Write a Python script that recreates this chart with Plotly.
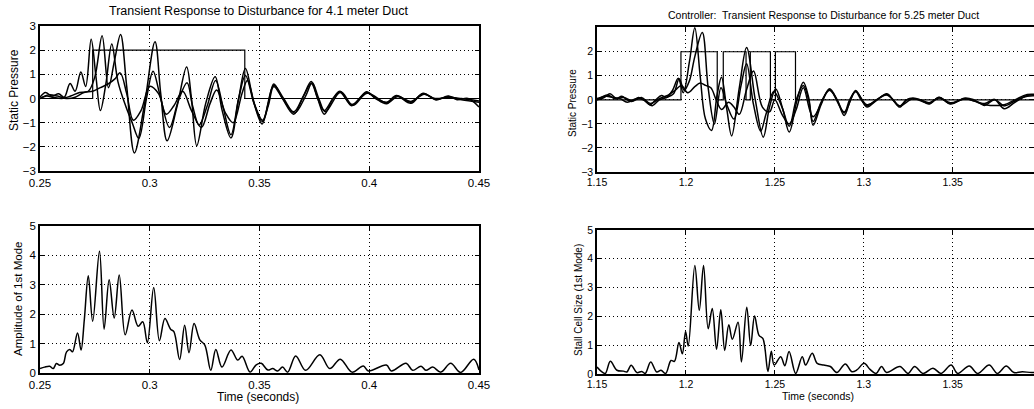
import plotly.graph_objects as go

# ---------------- data: 4.1 m duct (left) ----------------
step_l_t = [0.25, 0.274, 0.274, 0.3433, 0.3433, 0.45]
step_l_v = [0, 0, 2, 2, 0, 0]

p1_t = [0.2500, 0.2530, 0.2560, 0.2600, 0.2640, 0.2680, 0.2720, 0.2750, 0.2783, 0.2812, 0.2840, 0.2867,
        0.2895, 0.2930, 0.2975, 0.3024, 0.3050, 0.3079, 0.3125, 0.3168, 0.3190, 0.3214, 0.3255, 0.3298,
        0.3330, 0.3370, 0.3405, 0.3436, 0.3475, 0.3512, 0.3540, 0.3565, 0.3605, 0.3656, 0.3700, 0.3736,
        0.3765, 0.3795, 0.3835, 0.3867, 0.3920, 0.3960, 0.3988, 0.4030, 0.4079, 0.4124, 0.4190, 0.4245,
        0.4305, 0.4360, 0.4400, 0.4450, 0.4500]
p1_v = [0.00, 0.10, 0.05, 0.00, 0.10, 0.25, 0.30, 0.90, 2.60, 0.45, 1.60, 2.65,
        0.50, -2.25, -0.30, 2.35, 0.20, -1.75, -0.30, 1.30, 0.00, -1.95, -0.20, 0.90,
        -0.50, -1.63, 0.00, 1.24, -0.20, -1.05, -0.20, 0.60, 0.00, -0.65, 0.10, 0.70,
        0.00, -0.65, 0.00, 0.30, -0.30, 0.05, 0.28, 0.00, -0.22, 0.10, -0.20, 0.22,
        -0.05, 0.10, -0.05, 0.00, -0.35]

p2_t = [0.2500, 0.2525, 0.2555, 0.2585, 0.2610, 0.2637, 0.2660, 0.2686, 0.2708, 0.2733, 0.2755, 0.2775,
        0.2800, 0.2827, 0.2855, 0.2890, 0.2920, 0.2950, 0.2985, 0.3015, 0.3045, 0.3090, 0.3130, 0.3170,
        0.3195, 0.3225, 0.3262, 0.3300, 0.3335, 0.3370, 0.3405, 0.3436, 0.3475, 0.3512, 0.3540, 0.3565,
        0.3605, 0.3656, 0.3700, 0.3736, 0.3765, 0.3795, 0.3835, 0.3867, 0.3920, 0.3988, 0.4030, 0.4079,
        0.4124, 0.4190, 0.4245, 0.4305, 0.4360, 0.4420, 0.4500]
p2_v = [0.05, 0.25, 0.10, 0.20, 0.05, 0.62, 0.30, 1.10, 0.50, 2.45, 0.90, -0.50,
        0.60, 2.26, 0.70, -0.30, -1.00, -1.65, 0.00, 1.13, 0.20, -1.20, -0.10, 0.65,
        -0.30, -1.10, -0.30, 0.75, -0.40, -1.50, 0.00, 0.95, -0.20, -0.95, -0.30, 0.50,
        0.00, -0.55, 0.10, 0.62, 0.00, -0.50, 0.00, 0.25, -0.25, 0.25, 0.00, -0.15,
        0.12, -0.15, 0.20, -0.05, 0.08, -0.05, -0.15]

p3_t = [0.2500, 0.2540, 0.2580, 0.2620, 0.2660, 0.2700, 0.2740, 0.2775, 0.2810, 0.2840, 0.2865, 0.2895,
        0.2925, 0.2960, 0.3000, 0.3040, 0.3075, 0.3110, 0.3150, 0.3190, 0.3235, 0.3275, 0.3305, 0.3345,
        0.3380, 0.3420, 0.3445, 0.3480, 0.3515, 0.3565, 0.3610, 0.3660, 0.3710, 0.3740, 0.3770, 0.3800,
        0.3870, 0.3925, 0.3990, 0.4080, 0.4130, 0.4190, 0.4250, 0.4300, 0.4360, 0.4420, 0.4500]
p3_v = [0.00, 0.15, 0.10, 0.00, 0.05, 0.25, 0.30, 0.45, 0.60, 0.80, 1.06, 0.20,
        -0.90, -0.50, 0.50, 0.20, -0.65, -0.30, 0.30, -0.50, -1.20, -0.20, 0.35, -0.60,
        -1.00, 0.20, 0.75, -0.30, -0.90, 0.55, 0.00, -0.60, 0.10, 0.65, 0.00, -0.55,
        0.28, -0.28, 0.22, -0.18, 0.08, -0.12, 0.18, 0.00, 0.05, 0.00, -0.10]

amp_l_t = [0.2500, 0.2521, 0.2544, 0.2560, 0.2575, 0.2590, 0.2606, 0.2621, 0.2636, 0.2648, 0.2671, 0.2687,
           0.2702, 0.2720, 0.2740, 0.2771, 0.2792, 0.2815, 0.2838, 0.2861, 0.2888, 0.2919, 0.2947, 0.2968,
           0.2989, 0.3018, 0.3044, 0.3069, 0.3095, 0.3110, 0.3136, 0.3159, 0.3179, 0.3202, 0.3228, 0.3251,
           0.3278, 0.3301, 0.3329, 0.3370, 0.3401, 0.3421, 0.3457, 0.3485, 0.3508, 0.3538, 0.3560, 0.3583,
           0.3605, 0.3628, 0.3665, 0.3710, 0.3775, 0.3820, 0.3868, 0.3921, 0.3973, 0.3996, 0.4078, 0.4101,
           0.4168, 0.4198, 0.4236, 0.4258, 0.4289, 0.4326, 0.4371, 0.4416, 0.4476, 0.4500]
amp_l_v = [0.15, 0.20, 0.23, 0.15, 0.32, 0.26, 0.32, 0.72, 0.80, 0.72, 1.36, 0.78,
           1.82, 3.31, 1.76, 4.14, 1.49, 3.17, 1.87, 3.33, 1.30, 2.14, 1.59, 1.74,
           1.03, 2.91, 1.10, 1.85, 1.49, 1.41, 0.46, 1.62, 0.69, 1.68, 1.13, 0.95,
           0.09, 0.80, 0.20, 0.78, 0.44, 0.57, 0.03, 0.28, 0.33, 0.10, 0.15, 0.07,
           0.20, 0.03, 0.58, 0.09, 0.62, 0.15, 0.47, 0.03, 0.24, 0.07, 0.27, 0.07,
           0.33, 0.09, 0.23, 0.09, 0.20, 0.03, 0.33, 0.02, 0.47, 0.10]

# ---------------- data: 5.25 m duct, controller (right) ----------------
step_r_t = [1.15, 1.1972, 1.1972, 1.2176, 1.2176, 1.2210, 1.2210, 1.2338, 1.2338, 1.2362, 1.2362,
            1.2475, 1.2475, 1.2503, 1.2503, 1.2616, 1.2616, 1.40]
step_r_v = [0, 0, 2, 2, 0, 0, 2, 2, 0, 0, 2, 2, 0, 0, 2, 2, 0, 0]

r1_t = [1.1500, 1.1540, 1.1573, 1.1610, 1.1639, 1.1670, 1.1695, 1.1732, 1.1765, 1.1798, 1.1830, 1.1863,
        1.1890, 1.1925, 1.1957, 1.1985, 1.2020, 1.2050, 1.2080, 1.2110, 1.2144, 1.2175, 1.2200, 1.2230,
        1.2257, 1.2300, 1.2341, 1.2390, 1.2435, 1.2470, 1.2505, 1.2545, 1.2581, 1.2625, 1.2660, 1.2690,
        1.2715, 1.2760, 1.2807, 1.2850, 1.2890, 1.2925, 1.2954, 1.2985, 1.3018, 1.3075, 1.3129, 1.3165,
        1.3202, 1.3240, 1.3276, 1.3320, 1.3368, 1.3423, 1.3487, 1.3570, 1.3620, 1.3680, 1.3735, 1.3790,
        1.3850, 1.3919, 1.4000]
r1_v = [0.00, 0.10, 0.25, 0.05, 0.15, 0.00, -0.07, 0.10, 0.00, -0.20, 0.00, 0.18,
        0.10, 0.40, 0.90, 0.30, 1.60, 3.00, 1.00, -0.80, -1.27, 0.20, 0.94, -0.40,
        -1.50, 0.50, 2.18, 0.00, -1.55, -0.30, 0.45, -0.40, -1.34, 0.00, 0.73, 0.10,
        -1.06, -0.20, 0.46, 0.00, -0.65, 0.00, 0.39, 0.05, -0.30, 0.00, 0.25, 0.00,
        -0.30, 0.00, 0.08, 0.00, -0.17, 0.11, -0.17, 0.08, 0.00, -0.23, 0.00, -0.37,
        -0.10, 0.18, 0.20]

r2_t = [1.1500, 1.1550, 1.1590, 1.1630, 1.1670, 1.1720, 1.1760, 1.1811, 1.1850, 1.1890, 1.1930, 1.1962,
        1.1990, 1.2020, 1.2050, 1.2092, 1.2125, 1.2160, 1.2197, 1.2230, 1.2270, 1.2310, 1.2341, 1.2380,
        1.2420, 1.2450, 1.2494, 1.2540, 1.2581, 1.2620, 1.2660, 1.2690, 1.2715, 1.2760, 1.2807, 1.2850,
        1.2890, 1.2920, 1.2954, 1.2985, 1.3018, 1.3070, 1.3129, 1.3165, 1.3202, 1.3240, 1.3276, 1.3320,
        1.3368, 1.3423, 1.3487, 1.3570, 1.3680, 1.3735, 1.3790, 1.3850, 1.3919, 1.4000]
r2_v = [0.05, 0.15, 0.10, 0.05, -0.10, 0.05, 0.00, -0.24, 0.00, 0.10, 0.25, 0.88,
        0.40, 0.80, 1.80, 2.80, 0.50, -1.00, 0.50, -0.20, -0.80, 0.60, 1.50, -0.20,
        -1.30, -0.60, 0.35, -0.30, -1.10, 0.00, 0.60, 0.00, -0.90, -0.10, 0.42, 0.00,
        -0.55, 0.00, 0.35, 0.00, -0.25, 0.00, 0.22, 0.00, -0.25, 0.00, 0.05, 0.00,
        -0.12, 0.08, -0.12, 0.05, -0.15, 0.02, -0.25, -0.05, 0.15, 0.15]

r3_t = [1.1500, 1.1560, 1.1600, 1.1650, 1.1700, 1.1750, 1.1800, 1.1850, 1.1900, 1.1940, 1.1975, 1.2010,
        1.2050, 1.2080, 1.2110, 1.2140, 1.2170, 1.2200, 1.2240, 1.2270, 1.2300, 1.2340, 1.2380, 1.2430,
        1.2470, 1.2500, 1.2540, 1.2580, 1.2620, 1.2660, 1.2715, 1.2807, 1.2890, 1.2954, 1.3018, 1.3129,
        1.3202, 1.3276, 1.3368, 1.3423, 1.3487, 1.3570, 1.3680, 1.3790, 1.3850, 1.3919, 1.4000]
r3_v = [0.00, 0.20, 0.05, 0.10, -0.05, 0.10, -0.15, 0.05, 0.20, 0.40, 0.60, 0.30,
        0.55, 0.70, 0.60, 0.50, 0.00, -0.40, -0.10, -0.30, -0.60, 0.40, 1.20, -0.30,
        -0.50, 0.00, -0.60, -1.00, -0.40, 0.50, -0.70, 0.40, -0.50, 0.35, -0.20, 0.20,
        -0.25, 0.05, -0.15, 0.10, -0.15, 0.05, -0.20, -0.20, 0.00, 0.22, 0.20]

amp_r_t = [1.1500, 1.1528, 1.1547, 1.1575, 1.1612, 1.1649, 1.1668, 1.1692, 1.1724, 1.1752, 1.1771, 1.1802,
           1.1836, 1.1860, 1.1886, 1.1916, 1.1935, 1.1961, 1.1980, 1.1998, 1.2013, 1.2050, 1.2075, 1.2099,
           1.2125, 1.2148, 1.2172, 1.2196, 1.2218, 1.2241, 1.2261, 1.2293, 1.2312, 1.2342, 1.2364, 1.2386,
           1.2411, 1.2433, 1.2461, 1.2480, 1.2496, 1.2533, 1.2556, 1.2580, 1.2617, 1.2654, 1.2673, 1.2710,
           1.2738, 1.2775, 1.2812, 1.2849, 1.2896, 1.2933, 1.2961, 1.3002, 1.3035, 1.3069, 1.3100, 1.3128,
           1.3203, 1.3249, 1.3286, 1.3333, 1.3389, 1.3435, 1.3491, 1.3528, 1.3593, 1.3640, 1.3705, 1.3751,
           1.3801, 1.3844, 1.3891, 1.3946, 1.4000]
amp_r_v = [0.24, 0.07, 0.02, 0.44, 0.13, 0.10, 0.07, 0.30, 0.05, 0.09, 0.02, 0.42,
           0.07, 0.13, 0.02, 0.47, 0.44, 1.09, 0.70, 1.48, 0.97, 3.77, 2.21, 3.77,
           1.57, 2.27, 0.86, 2.23, 0.82, 1.71, 1.21, 1.80, 0.42, 2.32, 0.99, 2.01,
           1.34, 1.23, 0.09, 0.79, 0.31, 0.60, 0.29, 0.78, 0.02, 0.60, 0.31, 0.72,
           0.37, 0.31, 0.26, 0.05, 0.35, 0.08, 0.14, 0.37, 0.16, 0.02, 0.26, 0.05,
           0.26, 0.02, 0.26, 0.02, 0.20, 0.02, 0.31, 0.02, 0.28, 0.02, 0.31, 0.02,
           0.28, 0.05, 0.08, 0.05, 0.10]

# ---------------- ticks / text ----------------
xt_l = [0.25, 0.3, 0.35, 0.4, 0.45]
xt_l_txt = ["0.25", "0.3", "0.35", "0.4", "0.45"]
xt_r = [1.15, 1.2, 1.25, 1.3, 1.35]
xt_r_txt = ["1.15", "1.2", "1.25", "1.3", "1.35"]
yt_p = [-3, -2, -1, 0, 1, 2, 3]
yt_pr = [-3, -2, -1, 0, 1, 2]
yt_a = [0, 1, 2, 3, 4, 5]

W, H = 1034, 409
FONT = "Liberation Sans, Arial, Helvetica, sans-serif"

def px_dom_x(a, b):
    return [a / W, b / W]

def px_dom_y(top, bot):
    return [1 - bot / H, 1 - top / H]

fig = go.Figure()

def add_line(t, v, xa, ya, shape="spline", w=1.5):
    fig.add_trace(go.Scatter(x=t, y=v, xaxis=xa, yaxis=ya, mode="lines",
                             line=dict(color="black", width=w, shape=shape, smoothing=1.0),
                             showlegend=False, hoverinfo="skip"))

# top left
add_line(step_l_t, step_l_v, "x", "y", shape="linear", w=1.2)
for t, v in [(p1_t, p1_v), (p2_t, p2_v), (p3_t, p3_v)]:
    add_line(t, v, "x", "y")
# bottom left
add_line(amp_l_t, amp_l_v, "x2", "y2")
# top right
add_line(step_r_t, step_r_v, "x3", "y3", shape="linear", w=1.2)
for t, v in [(r1_t, r1_v), (r2_t, r2_v), (r3_t, r3_v)]:
    add_line(t, v, "x3", "y3")
# bottom right
add_line(amp_r_t, amp_r_v, "x4", "y4")

common = dict(showline=True, linecolor="black", linewidth=1.5, mirror="ticks",
              ticks="inside", ticklen=4, tickcolor="black", tickwidth=1,
              showgrid=True, gridcolor="black", gridwidth=1, griddash="1px,3px",
              zeroline=False, automargin=False)

XL = px_dom_x(40, 479)
XR = px_dom_x(597, W)
fig.update_layout(
    width=W, height=H, margin=dict(l=0, r=0, t=0, b=0, autoexpand=False),
    paper_bgcolor="white", plot_bgcolor="white",
    font=dict(family=FONT, color="black", size=11.5),
    xaxis=dict(domain=XL, range=[0.25, 0.45], anchor="y", tickvals=xt_l, ticktext=xt_l_txt, **common),
    yaxis=dict(domain=px_dom_y(26, 171), range=[-3, 3], anchor="x", tickvals=yt_p, **common),
    xaxis2=dict(domain=XL, range=[0.25, 0.45], anchor="y2", tickvals=xt_l, ticktext=xt_l_txt, **common),
    yaxis2=dict(domain=px_dom_y(226, 373), range=[0, 5], anchor="x2", tickvals=yt_a, **common),
    xaxis3=dict(domain=XR, range=[1.15, 1.3957], anchor="y3", tickvals=xt_r, ticktext=xt_r_txt,
                tickfont=dict(size=10.5), **common),
    yaxis3=dict(domain=px_dom_y(27, 172), range=[-3, 3.03], anchor="x3", tickvals=yt_pr,
                tickfont=dict(size=10.5), **common),
    xaxis4=dict(domain=XR, range=[1.15, 1.3957], anchor="y4", tickvals=xt_r, ticktext=xt_r_txt,
                tickfont=dict(size=10.5), **common),
    yaxis4=dict(domain=px_dom_y(230, 374), range=[0, 5], anchor="x4", tickvals=yt_a,
                tickfont=dict(size=10.5), **common),
)

def ann(text, x, y, size, angle=0):
    fig.add_annotation(text=text, x=x / W, y=1 - y / H, xref="paper", yref="paper",
                       showarrow=False, textangle=angle, xanchor="center", yanchor="middle",
                       font=dict(family=FONT, size=size, color="black"))

ann("Transient Response to Disturbance for 4.1 meter Duct", 259, 11, 12.5)
ann("Controller:  Transient Response to Disturbance for 5.25 meter Duct", 823, 15, 10.5)
ann("Static Pressure", 14, 90, 12, -90)
ann("Amplitude of 1st Mode", 18, 299, 11.5, -90)
ann("Time (seconds)", 258, 397, 12)
ann("Static Pressure", 572, 103, 10, -90)
ann("Stall Cell Size (1st Mode)", 578, 300, 10, -90)
ann("Time (seconds)", 818, 396, 10.5)

fig.write_html("out.html")
